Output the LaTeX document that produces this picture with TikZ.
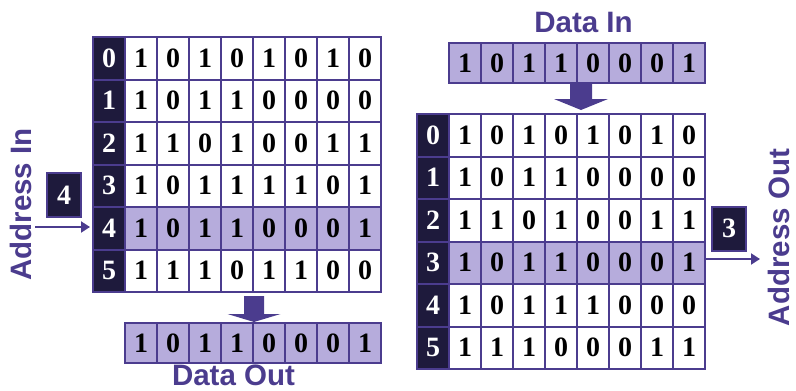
\documentclass[tikz,border=0pt]{standalone}
\usepackage{fontspec}
\setmainfont{Liberation Serif}
\newfontfamily\labelfont{Liberation Sans}
\usepackage{xcolor}
\definecolor{cLine}{HTML}{4B3C8E}
\definecolor{cFill}{HTML}{B6ACDC}
\definecolor{cDark}{HTML}{1E1A3C}
\usetikzlibrary{arrows.meta, positioning, calc}
\tikzset{
  cell/.style  = {rectangle, draw=cLine, line width=2pt, fill=#1,
                  minimum width=32pt, minimum height=42.5pt, inner sep=0pt,
                  font=\fontsize{28}{28}\selectfont\bfseries},
  cell/.default = white,
  idx/.style   = {cell=cDark, text=white},
  bus/.style   = {cell=cFill, minimum height=40pt},
  addr/.style  = {cell=cDark, text=white, minimum width=34pt,
                  minimum height=44pt},
  lbl/.style   = {font=\labelfont\fontsize{29.5}{29.5}\selectfont\bfseries,
                  text=cLine, inner sep=0pt},
  arr/.style   = {-{Triangle[length=9pt,width=11pt]}, draw=cLine,
                  line width=2pt},
  blk/.style   = {fill=cLine},
}

\begin{document}
\begin{tikzpicture}[x=1pt, y=-1pt]
  \useasboundingbox (0,0) rectangle (796,391);

  %% Read side: address selects a row, row goes to data out
  \foreach \bits [count=\r from 0] in
      {{1,0,1,0,1,0,1,0},{1,0,1,1,0,0,0,0},{1,1,0,1,0,0,1,1},
       {1,0,1,1,1,1,0,1},{1,0,1,1,0,0,0,1},{1,1,1,0,1,1,0,0}}{
    \ifnum\r=4 \def\cf{cFill}\else\def\cf{white}\fi
    \node[idx] (L\r-0) at (109, 58.25+42.5*\r) {\r};
    \foreach \b [count=\c] in \bits
      \node[cell=\cf] (L\r-\c) at (109+32*\c, 58.25+42.5*\r) {\b};
  }
  \foreach \b [count=\c] in {1,0,1,1,0,0,0,1}
    \node[bus] (O\c) at (109+32*\c, 343) {\b};

  \node[addr] (ain-box) at (64,195) {4};
  \coordinate (ain) at (35,227);
  \draw[arr, shorten >=2pt] (ain) -- (ain -| L4-0.west);
  \node[lbl, rotate=90] (ain-lbl) at (20.5,204.5) {Address In};

  \fill[blk] (O4.north east) -- ++(-26.5,-8) -- ++(16.5,0) -- ++(0,-18)
    -- ++(20,0) -- ++(0,18) -- ++(16.5,0) -- cycle;
  \node[lbl] (dout-lbl) at (233.5,375) {Data Out};

  %% Write side: data in is stored, its row gives the address out
  \node[lbl] (din-lbl) at (583.5,22.5) {Data In};
  \foreach \b [count=\c] in {1,0,1,1,0,0,0,1}
    \node[bus] (I\c) at (433+32*\c, 63) {\b};

  \foreach \bits [count=\r from 0] in
      {{1,0,1,0,1,0,1,0},{1,0,1,1,0,0,0,0},{1,1,0,1,0,0,1,1},
       {1,0,1,1,0,0,0,1},{1,0,1,1,1,0,0,0},{1,1,1,0,0,0,1,1}}{
    \ifnum\r=3 \def\cf{cFill}\else\def\cf{white}\fi
    \node[idx] (R\r-0) at (433, 135.25+42.5*\r) {\r};
    \foreach \b [count=\c] in \bits
      \node[cell=\cf] (R\r-\c) at (433+32*\c, 135.25+42.5*\r) {\b};
  }

  \fill[blk] ($(R0-4.north east)+(3,-3)$) -- ++(-27,-11) -- ++(16,0)
    -- ++(0,-17) -- ++(22,0) -- ++(0,17) -- ++(16,0) -- cycle;

  \node[addr] (aout-box) at (729,228.5) {3};
  \coordinate (aout) at (760,259);
  \draw[arr] (aout -| R3-8.east) -- (aout);
  \node[lbl, rotate=90] (aout-lbl) at (779,237.5) {Address Out};
\end{tikzpicture}
\end{document}
